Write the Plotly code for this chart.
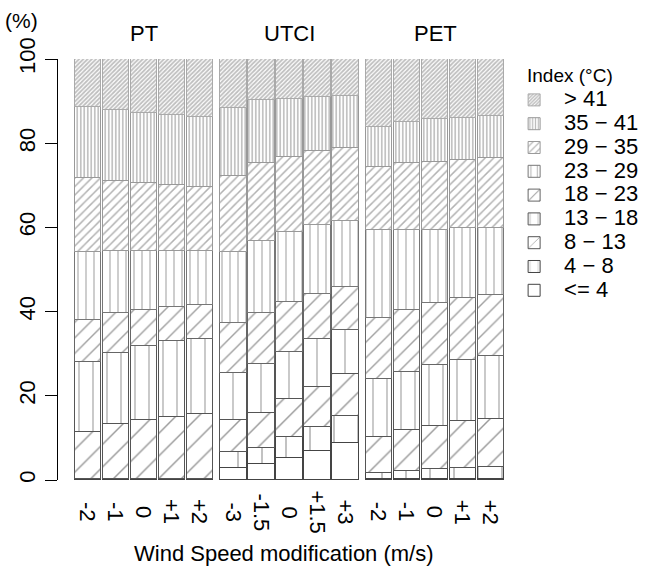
import plotly.graph_objects as go

# ---- data (percent of hours in each index class) ----
groups = ["PT", "UTCI", "PET"]
wind_labels = ["-2", "-1", "0", "+1", "+2",
               "-3", "-1.5", "0", "+1.5", "+3",
               "-2", "-1", "0", "+1", "+2"]
classes = ["<= 4", "4 \u2212 8", "8 \u2212 13", "13 \u2212 18", "18 \u2212 23",
           "23 \u2212 29", "29 \u2212 35", "35 \u2212 41", "> 41"]

le4     = [0.1, 0.1, 0.1, 0.1, 0.1,   2.9, 3.7, 5.3, 6.9, 8.9,    0.2, 0.3, 0.3, 0.3, 0.3]
c4_8    = [0.2, 0.2, 0.2, 0.2, 0.2,   3.7, 4.0, 4.8, 5.8, 6.4,    1.5, 1.9, 2.2, 2.5, 2.7]
c8_13   = [11.2, 13.0, 14.0, 14.7, 15.3,  7.7, 8.1, 9.1, 9.5, 9.8,  8.4, 9.7, 10.3, 11.1, 11.4]
c13_18  = [16.5, 16.9, 17.5, 17.9, 18.0,  11.0, 11.8, 11.3, 11.2, 10.5,  13.8, 13.8, 14.5, 14.6, 15.1]
c18_23  = [10.0, 9.4, 8.6, 8.2, 8.0,  12.1, 12.0, 11.7, 10.9, 10.3,  14.5, 14.7, 14.7, 14.7, 14.5]
c23_29  = [16.2, 14.7, 13.9, 13.2, 12.7,  16.8, 17.2, 16.6, 16.3, 15.6,  21.0, 19.0, 17.5, 16.6, 15.9]
c29_35  = [17.5, 16.7, 16.2, 15.8, 15.3,  18.1, 18.6, 18.0, 17.6, 17.3,  15.0, 15.8, 16.1, 16.2, 16.5]
c35_41  = [16.9, 17.0, 16.7, 16.6, 16.7,  16.0, 14.9, 13.8, 12.8, 12.4,  9.5, 9.9, 10.1, 10.1, 10.1]
gt41    = [11.4, 12.0, 12.8, 13.3, 13.7,  11.7, 9.7, 9.4, 9.0, 8.8,  16.1, 14.9, 14.3, 13.9, 13.5]

series = [le4, c4_8, c8_13, c13_18, c18_23, c23_29, c29_35, c35_41, gt41]

# ---- styles (hatching) ----
styles = [
    dict(shape="",  size=8,   sol=0.1,  fg="#444", line="#444"),
    dict(shape="|", size=24,  sol=0.06, fg="#555", line="#444"),
    dict(shape="/", size=16,  sol=0.09, fg="#333", line="#555"),
    dict(shape="|", size=14,  sol=0.1,  fg="#666", line="#555"),
    dict(shape="/", size=11,  sol=0.13, fg="#444", line="#666"),
    dict(shape="|", size=8,   sol=0.18, fg="#777", line="#777"),
    dict(shape="/", size=6,   sol=0.25, fg="#666", line="#999"),
    dict(shape="|", size=3.5, sol=0.45, fg="#777", line="#999"),
    dict(shape="/", size=3,   sol=0.6,  fg="#808080", line="#aaa"),
]

n_per = 5
gap = 0.2
xpos = [g * (n_per + gap) + i for g in range(len(groups)) for i in range(n_per)]

font = "Liberation Sans, Arial, sans-serif"

fig = go.Figure()
for name, vals, st in zip(classes, series, styles):
    fig.add_trace(go.Bar(
        x=xpos, y=vals, width=0.94,
        name='<span style="font-size:22px">' + name + '</span>',
        marker=dict(color="white",
                    line=dict(color=st["line"], width=1),
                    pattern=dict(shape=st["shape"], size=st["size"],
                                 solidity=st["sol"], fgcolor=st["fg"],
                                 bgcolor="white", fillmode="overlay")),
        hoverinfo="skip",
    ))

annotations = []
for g, gname in enumerate(groups):
    annotations.append(dict(x=g * (n_per + gap) + 2, y=1.0, xref="x", yref="paper",
                            yshift=26, yanchor="middle", text=gname, showarrow=False,
                            font=dict(size=22, color="black", family=font)))
for xv, lab in zip(xpos, wind_labels):
    annotations.append(dict(x=xv, y=0, xref="x", yref="paper", yshift=-32,
                            text=lab, textangle=90, showarrow=False,
                            xanchor="center", yanchor="middle",
                            font=dict(size=22, color="black", family=font)))
annotations.append(dict(x=0.5, y=0, xref="paper", yref="paper", yshift=-73,
                        yanchor="middle",
                        text="Wind Speed modification (m/s)", showarrow=False,
                        font=dict(size=22, color="black", family=font)))
annotations.append(dict(x=-0.08, y=1.0, xref="paper", yref="paper", yshift=39,
                        xanchor="center", yanchor="middle",
                        text="(%)", showarrow=False,
                        font=dict(size=21, color="black", family=font)))
annotations.append(dict(x=1.033, y=1.0, xref="paper", yref="paper", yshift=-16,
                        text="Index (\u00b0C)", showarrow=False,
                        xanchor="left", yanchor="middle",
                        font=dict(size=19, color="black", family=font)))

fig.update_layout(
    width=655, height=573,
    barmode="stack", bargap=0,
    plot_bgcolor="white", paper_bgcolor="white",
    margin=dict(l=58, r=145, t=59, b=93, autoexpand=False),
    font=dict(family=font, color="black", size=21),
    xaxis=dict(range=[-1.07, 15.07], showticklabels=False, ticks="",
               showline=False, showgrid=False, zeroline=False, automargin=False),
    yaxis=dict(range=[0, 100], tickvals=[0, 20, 40, 60, 80, 100],
               tickangle=-90, ticks="outside", ticklen=12, tickcolor="black",
               showline=True, linecolor="black", linewidth=1,
               showgrid=False, zeroline=False, ticklabelstandoff=1,
               automargin=False, tickfont=dict(size=22)),
    legend=dict(x=0.987, y=0.943, xanchor="left", yanchor="top",
                traceorder="reversed", itemwidth=50,
                font=dict(size=16, family=font, color="black"),
                bgcolor="rgba(0,0,0,0)"),
    annotations=annotations,
    showlegend=True,
)

# remove the default 8px page margin so the figure fills the window exactly
fig.write_html("out.html", config={"displayModeBar": False},
               post_script="document.body.style.margin='0px';")
